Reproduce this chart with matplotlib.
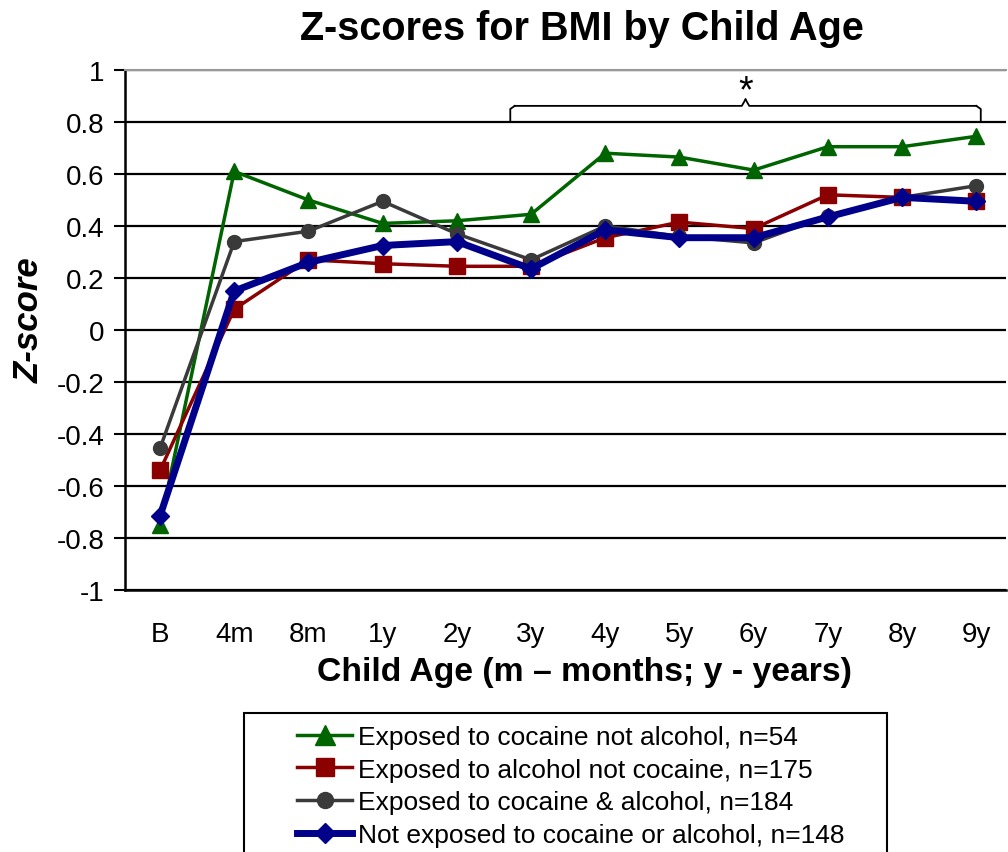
import numpy as np
import matplotlib
matplotlib.use("Agg")
import matplotlib.pyplot as plt
from matplotlib.patches import Rectangle

plt.rcParams['font.family'] = ['Liberation Sans', 'DejaVu Sans']

edades = ["B", "4m", "8m", "1y", "2y", "3y", "4y", "5y", "6y", "7y", "8y", "9y"]

cocaina_sin_alcohol = [-0.75, 0.61, 0.50, 0.41, 0.42, 0.445, 0.68, 0.665, 0.615, 0.705, 0.705, 0.745]
alcohol_sin_cocaina = [-0.54, 0.08, 0.27, 0.255, 0.245, 0.245, 0.355, 0.415, 0.39, 0.52, 0.51, 0.495]
cocaina_y_alcohol = [-0.455, 0.34, 0.38, 0.495, 0.37, 0.27, 0.40, 0.36, 0.335, 0.44, 0.51, 0.555]
no_expuestos = [-0.715, 0.15, 0.26, 0.325, 0.34, 0.235, 0.385, 0.355, 0.355, 0.435, 0.51, 0.495]

etiquetas = [
    "Exposed to cocaine not alcohol, n=54",
    "Exposed to alcohol not cocaine, n=175",
    "Exposed to cocaine & alcohol, n=184",
    "Not exposed to cocaine or alcohol, n=148",
]

x = np.arange(len(edades))
W, H = 1008, 853

fig = plt.figure(figsize=(W / 100, H / 100), dpi=100, facecolor='w')
ax = fig.add_axes([125/W, 1 - 591/H, (1006 - 125)/W, (591 - 71)/H])

# Series
ax.plot(x, cocaina_sin_alcohol, c="#006400", lw=2.5, marker="^", ms=12, zorder=3, label=etiquetas[0])
ax.plot(x, alcohol_sin_cocaina, c="#8B0000", lw=2.5, marker="s", ms=11, zorder=4, label=etiquetas[1])
ax.plot(x, cocaina_y_alcohol, c="#3a3a3a", lw=2.5, marker="o", ms=10, zorder=5, label=etiquetas[2])
ax.plot(x, no_expuestos, c="#00008B", lw=5, marker="D", ms=9, zorder=6, label=etiquetas[3])

# Limites
ax.set_xlim(-0.472, 11.4)
ax.set_ylim(-1, 1)

# Grilla y ejes
ax.set_yticks(np.arange(-1, 1.01, 0.2))
ax.set_yticklabels(["-1", "-0.8", "-0.6", "-0.4", "-0.2", "0", "0.2", "0.4", "0.6", "0.8", "1"])
ax.set_xticks(x)
ax.set_xticklabels(edades)
ax.yaxis.grid(True, color='k', lw=1.6, zorder=1)
ax.set_axisbelow(True)
ax.tick_params(axis="y", direction="out", length=8, width=1.5, labelsize=20, pad=7)
ax.tick_params(axis="x", length=0, labelsize=20, pad=22)
ax.spines["right"].set_visible(False)
ax.spines["top"].set_color("#999999")
ax.spines["top"].set_linewidth(1.5)
ax.spines["left"].set_linewidth(1.8)
ax.spines["bottom"].set_linewidth(1.8)

# Llave de significancia
x0, x1, ym = 4.72, 11.06, 7.89
yb, yt = 0.8, 0.862
r = 0.06
ax.plot([x0, x0, x0 + r], [yb, yt - 0.012, yt], c='k', lw=1.3, zorder=2)
ax.plot([x0 + r, ym - 0.05, ym], [yt, yt, yt + 0.025], c='k', lw=1.3, zorder=2)
ax.plot([ym, ym + 0.05, x1 - r], [yt + 0.025, yt, yt], c='k', lw=1.3, zorder=2)
ax.plot([x1 - r, x1, x1], [yt, yt - 0.012, yb], c='k', lw=1.3, zorder=2)
ax.text(ym, yt - 0.012, "*", ha="center", va="bottom", fontsize=27)

# Etiquetas
ax.set_ylabel("Z-score", fontsize=25, fontweight="bold", fontstyle="italic")
ax.yaxis.set_label_coords(-0.09, 0.52)
fig.text(584/W, 1 - 673/H, "Child Age (m \u2013 months; y - years)", ha="center", va="center",
         fontsize=24.3, fontweight="bold")
fig.suptitle("Z-scores for BMI by Child Age", x=582/W, y=1 - 29/H, va="center",
             fontsize=28.5, fontweight="bold")

# Leyenda (recuadro cortado por el borde inferior)
fig.patches.append(Rectangle((244/W, -0.02), (887 - 244)/W, 0.02 + (853 - 714)/H,
                             transform=fig.transFigure, fill=False, ec='k', lw=1.5))
leg = fig.legend(loc="upper left", bbox_to_anchor=(297/W, 1 - 726/H), fontsize=19,
                 frameon=False, handlelength=2.1, handletextpad=0.2,
                 labelspacing=0.33, borderpad=0, borderaxespad=0, markerscale=1.15)

fig.savefig("out.png", dpi=100, facecolor='w')
plt.close(fig)
